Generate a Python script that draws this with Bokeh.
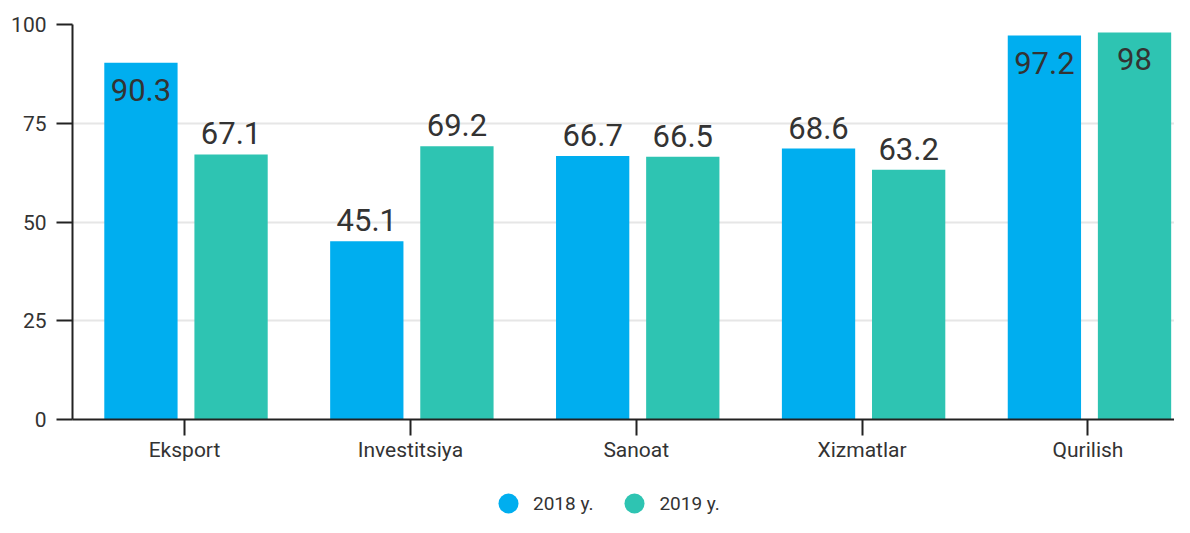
from bokeh.plotting import figure
from bokeh.layouts import column
from bokeh.models import (ColumnDataSource, Range1d, FixedTicker, Legend, LegendItem)
from bokeh.transform import dodge
from bokeh.core.properties import value
from bokeh.embed import file_html
from bokeh.resources import INLINE

categories = ["Eksport", "Investitsiya", "Sanoat", "Xizmatlar", "Qurilish"]
v2018 = [90.3, 45.1, 66.7, 68.6, 97.2]
v2019 = [67.1, 69.2, 66.5, 63.2, 98]
series_names = ["2018 y.", "2019 y."]
y_ticks = [0, 25, 50, 75, 100]

C18 = "#00AEEF"
C19 = "#2EC4B2"
FONT = "Roboto"
TXT = "#333333"

idx = list(range(len(categories)))


def lab_off(vals):
    return [27 if v > 85 else -21 for v in vals]


def lab_txt(vals):
    return [("%g" % v) for v in vals]


src = ColumnDataSource(dict(
    x=idx, v18=v2018, v19=v2019,
    t18=lab_txt(v2018), t19=lab_txt(v2019),
    o18=lab_off(v2018), o19=lab_off(v2019),
))

p = figure(width=1174, height=470, output_backend="svg", toolbar_location=None,
           x_range=Range1d(-0.496, 4.383), y_range=Range1d(0, 100),
           min_border_left=72, min_border_right=0, min_border_top=24, min_border_bottom=51,
           outline_line_color=None)

OFF18, OFF19, W = -0.193, 0.206, 0.3245
p.vbar(x=dodge("x", OFF18, range=p.x_range), top="v18", width=W, source=src,
       fill_color=C18, line_color=None)
p.vbar(x=dodge("x", OFF19, range=p.x_range), top="v19", width=W, source=src,
       fill_color=C19, line_color=None)

p.text(x=dodge("x", OFF18, range=p.x_range), y="v18", text="t18", y_offset="o18", source=src,
       text_align="center", text_baseline="alphabetic", text_font=value(FONT),
       text_font_size="31px", text_color=TXT)
p.text(x=dodge("x", OFF19, range=p.x_range), y="v19", text="t19", y_offset="o19", source=src,
       text_align="center", text_baseline="alphabetic", text_font=value(FONT),
       text_font_size="31px", text_color=TXT)

# axes
p.xgrid.grid_line_color = None
p.ygrid.grid_line_color = "#e6e6e6"
p.ygrid.grid_line_width = 2
p.yaxis.ticker = FixedTicker(ticks=y_ticks)
p.xaxis.ticker = FixedTicker(ticks=idx)
p.xaxis.major_label_overrides = {i: c for i, c in zip(idx, categories)}

for ax in (p.xaxis[0], p.yaxis[0]):
    ax.axis_line_color = "#222222"
    ax.axis_line_width = 2
    ax.major_tick_line_color = "#222222"
    ax.major_tick_line_width = 2
    ax.major_tick_out = 16
    ax.major_tick_in = 0
    ax.minor_tick_line_color = None
    ax.major_label_text_font = FONT
    ax.major_label_text_font_size = "21px"
    ax.major_label_text_color = TXT
p.yaxis.major_label_standoff = 10
p.xaxis.major_label_standoff = 2

# legend strip (separate small figure below the chart)
lg = figure(width=1174, height=47, output_backend="svg", toolbar_location=None,
            min_border=0, outline_line_color=None,
            x_axis_location=None, y_axis_location=None)
lg.xgrid.grid_line_color = None
lg.ygrid.grid_line_color = None
# zero-size markers: only their legend swatches are visible
e18 = lg.scatter(x="x", y="v18", source=src, marker="circle", size=0,
                 fill_color=C18, line_color=None)
e19 = lg.scatter(x="x", y="v19", source=src, marker="circle", size=0,
                 fill_color=C19, line_color=None)
legend = Legend(items=[LegendItem(label=series_names[0], renderers=[e18]),
                       LegendItem(label=series_names[1], renderers=[e19])],
                orientation="horizontal", location=(411, -11),
                glyph_width=50, glyph_height=50, label_standoff=-5, spacing=16,
                padding=0, margin=0,
                label_text_font=FONT, label_text_font_size="19px", label_text_color=TXT,
                background_fill_alpha=0, border_line_alpha=0)
lg.add_layout(legend)

layout = column(p, lg, spacing=0)
open("out.html", "w").write(file_html(layout, INLINE))
